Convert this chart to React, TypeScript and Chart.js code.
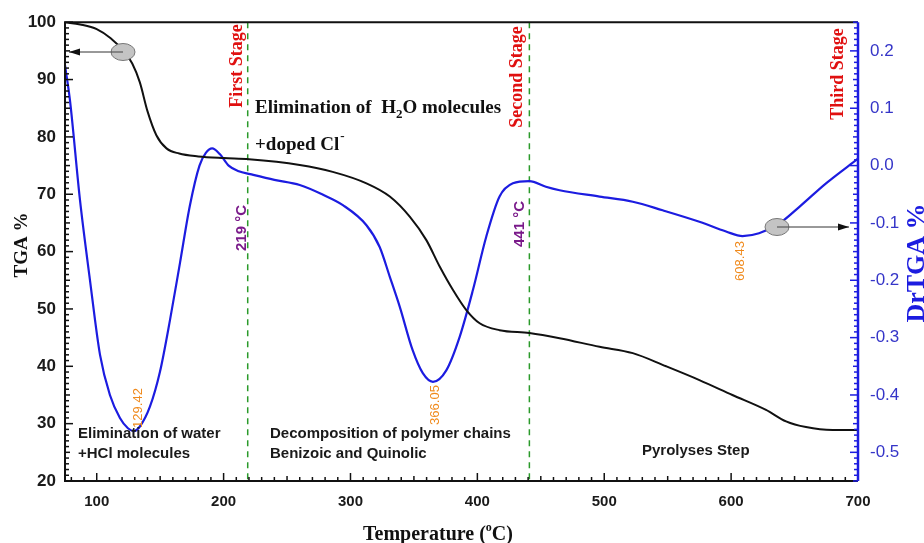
import React, { useEffect, useRef } from "react";
import { Chart, registerables } from "chart.js";

Chart.register(...registerables);

// ---- data ----
const tgaTemp = [75, 87, 100, 111, 121, 128, 134, 140, 147, 155, 165, 180, 200, 220, 260, 286, 312.6, 331, 346.7, 359.8, 370.3, 380.8, 391.3, 401.8, 417.5, 441, 464.8, 496.3, 522.5, 548.8, 575, 601, 627.5, 643.3, 659, 680, 700];
const tgaValues = [100, 99.6, 98.8, 97.2, 95, 92.8, 89.5, 84.5, 80.3, 78, 77.1, 76.6, 76.3, 76.1, 75.1, 73.9, 71.9, 69.6, 66.1, 62, 57.4, 53.3, 49.8, 47.5, 46.3, 45.8, 44.9, 43.4, 42.3, 40, 37.6, 35, 32.4, 30.4, 29.4, 28.9, 28.9];

const dtgTemp = [75, 78.9, 86.8, 94.7, 102.6, 110.4, 118.3, 124.6, 129.4, 134, 142, 149.8, 157.7, 165.6, 173.4, 181, 186, 191, 197, 204, 212, 221, 240, 260, 278.4, 294, 312.6, 323, 331, 338.8, 349, 357, 365, 375.5, 386, 396.5, 407, 417.5, 428, 441, 454, 464.8, 496.3, 522.5, 546, 575, 596, 609, 622, 638, 653.8, 674.8, 700];
const dtgValues = [0.175, 0.114, -0.06, -0.2, -0.33, -0.4, -0.44, -0.458, -0.463, -0.455, -0.42, -0.36, -0.27, -0.17, -0.07, 0.0, 0.022, 0.03, 0.02, 0.0, -0.01, -0.015, -0.025, -0.034, -0.051, -0.069, -0.104, -0.142, -0.194, -0.246, -0.322, -0.362, -0.377, -0.357, -0.299, -0.217, -0.124, -0.054, -0.031, -0.027, -0.037, -0.043, -0.054, -0.063, -0.078, -0.098, -0.115, -0.123, -0.118, -0.101, -0.072, -0.031, 0.012];

const xTicks = [100, 200, 300, 400, 500, 600, 700];
const yTicks = [20, 30, 40, 50, 60, 70, 80, 90, 100];
const y1Ticks = [-0.5, -0.4, -0.3, -0.2, -0.1, 0, 0.1, 0.2];

const stageTemps = [219, 441];
const stageLabels = ["First Stage", "Second Stage", "Third Stage"];
const peakTemps = [129.42, 366.05, 608.43];

const SERIF = "'Liberation Serif', 'Times New Roman', serif";
const SANS = "'Liberation Sans', Arial, sans-serif";

function rotText(ctx: CanvasRenderingContext2D, text: string, x: number, y: number, font: string, color: string) {
  ctx.save();
  ctx.translate(x, y);
  ctx.rotate(-Math.PI / 2);
  ctx.font = font;
  ctx.fillStyle = color;
  ctx.textAlign = "center";
  ctx.textBaseline = "middle";
  ctx.fillText(text, 0, 0);
  ctx.restore();
}

function ellipseArrow(ctx: CanvasRenderingContext2D, cx: number, cy: number, tx: number) {
  ctx.save();
  // arrow line
  ctx.strokeStyle = "#333";
  ctx.lineWidth = 1;
  ctx.beginPath();
  ctx.moveTo(cx, cy);
  ctx.lineTo(tx, cy);
  ctx.stroke();
  const dir = tx < cx ? -1 : 1;
  ctx.fillStyle = "#111";
  ctx.beginPath();
  ctx.moveTo(tx, cy);
  ctx.lineTo(tx - dir * 11, cy - 3.5);
  ctx.lineTo(tx - dir * 11, cy + 3.5);
  ctx.closePath();
  ctx.fill();
  // ellipse
  ctx.fillStyle = "#c4c4c4";
  ctx.strokeStyle = "#777";
  ctx.lineWidth = 1;
  ctx.beginPath();
  ctx.ellipse(cx, cy, 12, 8.5, 0, 0, Math.PI * 2);
  ctx.fill();
  ctx.stroke();
  ctx.strokeStyle = "#444";
  ctx.beginPath();
  ctx.moveTo(cx, cy);
  ctx.lineTo(cx + dir * 12, cy);
  ctx.stroke();
  ctx.restore();
}

const decorPlugin = {
  id: "decor",
  beforeDatasetsDraw(chart: any) {
    const { ctx, chartArea, scales } = chart;
    const x = scales.x;
    ctx.save();
    ctx.strokeStyle = "#2a9a2a";
    ctx.lineWidth = 1.5;
    ctx.setLineDash([6, 5]);
    stageTemps.forEach((t) => {
      const px = x.getPixelForValue(t);
      ctx.beginPath();
      ctx.moveTo(px, chartArea.top);
      ctx.lineTo(px, chartArea.bottom);
      ctx.stroke();
    });
    ctx.restore();
  },
  afterDatasetsDraw(chart: any) {
    const { ctx, chartArea, scales } = chart;
    const { left, right, top, bottom } = chartArea;
    const x = scales.x, y = scales.y, y1 = scales.y1;
    ctx.save();
    // frame
    ctx.strokeStyle = "#111";
    ctx.lineWidth = 2;
    ctx.beginPath();
    ctx.moveTo(right, top);
    ctx.lineTo(left, top);
    ctx.lineTo(left, bottom);
    ctx.lineTo(right, bottom);
    ctx.stroke();
    // left ticks
    ctx.lineWidth = 1.5;
    for (let v = 20; v <= 100; v += 1) {
      const py = y.getPixelForValue(v);
      const len = v % 10 === 0 ? 8 : v % 5 === 0 ? 5 : 4;
      ctx.beginPath();
      ctx.moveTo(left, py);
      ctx.lineTo(left + len, py);
      ctx.stroke();
    }
    // bottom ticks
    for (let v = 80; v <= 700; v += 10) {
      const px = x.getPixelForValue(v);
      const len = v % 100 === 0 ? 8 : v % 50 === 0 ? 5 : 4;
      ctx.beginPath();
      ctx.moveTo(px, bottom);
      ctx.lineTo(px, bottom - len);
      ctx.stroke();
    }
    // right axis (blue)
    ctx.strokeStyle = "#1c1ce0";
    ctx.lineWidth = 2.5;
    ctx.beginPath();
    ctx.moveTo(right, top);
    ctx.lineTo(right, bottom);
    ctx.stroke();
    ctx.lineWidth = 1.5;
    for (let i = -55; i <= 25; i++) {
      const v = i / 100;
      const py = y1.getPixelForValue(v);
      const len = i % 10 === 0 ? 8 : i % 5 === 0 ? 5 : 4;
      ctx.beginPath();
      ctx.moveTo(right, py);
      ctx.lineTo(right - len, py);
      ctx.stroke();
    }
    ctx.restore();

    // stage labels
    const redFont = `bold 18px ${SERIF}`;
    rotText(ctx, stageLabels[0], x.getPixelForValue(219) - 10, 66, redFont, "#e01010");
    rotText(ctx, stageLabels[1], x.getPixelForValue(441) - 12, 77, redFont, "#e01010");
    rotText(ctx, stageLabels[2], 838, 74, redFont, "#e01010");

    // temperature labels
    const purpleFont = `bold 15px ${SANS}`;
    rotText(ctx, "219 °C", x.getPixelForValue(219) - 6, 228, purpleFont, "#7a1a8a");
    rotText(ctx, "441 °C", x.getPixelForValue(441) - 10, 224, purpleFont, "#7a1a8a");

    // peak labels
    const orFont = `13px ${SANS}`;
    rotText(ctx, peakTemps[0].toFixed(2), x.getPixelForValue(peakTemps[0]) + 4, 408, orFont, "#f08a1c");
    rotText(ctx, peakTemps[1].toFixed(2), x.getPixelForValue(peakTemps[1]) + 1, 405, orFont, "#f08a1c");
    rotText(ctx, peakTemps[2].toFixed(2), x.getPixelForValue(peakTemps[2]) - 1, 261, orFont, "#f08a1c");

    // "Elimination of  H2O molecules"
    ctx.save();
    ctx.fillStyle = "#111";
    ctx.textBaseline = "alphabetic";
    ctx.textAlign = "left";
    const bf = `bold 19px ${SERIF}`;
    const sf = `bold 13px ${SERIF}`;
    let cx = 255;
    ctx.font = bf;
    let s = "Elimination of  H";
    ctx.fillText(s, cx, 113);
    cx += ctx.measureText(s).width;
    ctx.font = sf;
    ctx.fillText("2", cx, 118);
    cx += ctx.measureText("2").width;
    ctx.font = bf;
    ctx.fillText("O molecules", cx, 113);
    s = "+doped Cl";
    ctx.fillText(s, 255, 150);
    const w = ctx.measureText(s).width;
    ctx.font = sf;
    ctx.fillText("-", 255 + w + 1, 140);

    // bottom descriptions
    ctx.font = `bold 15px ${SANS}`;
    ctx.fillStyle = "#1a1a1a";
    ctx.fillText("Elimination of water", 78, 438);
    ctx.fillText("+HCl molecules", 78, 458);
    ctx.fillText("Decomposition of polymer chains", 270, 438);
    ctx.fillText("Benizoic and Quinolic", 270, 458);
    ctx.fillText("Pyrolyses Step", 642, 455);
    ctx.restore();

    // ellipses with arrows
    ellipseArrow(ctx, 123, 52, 69);
    ellipseArrow(ctx, 777, 227, 849);

    // axis titles
    ctx.save();
    ctx.fillStyle = "#111";
    ctx.translate(27, 245);
    ctx.rotate(-Math.PI / 2);
    ctx.font = `bold 19px ${SERIF}`;
    ctx.textAlign = "center";
    ctx.textBaseline = "alphabetic";
    ctx.fillText("TGA %", 0, 0);
    ctx.restore();

    ctx.save();
    ctx.fillStyle = "#1c1ce0";
    ctx.translate(924, 263);
    ctx.rotate(-Math.PI / 2);
    ctx.font = `bold 26px ${SERIF}`;
    ctx.textAlign = "center";
    ctx.textBaseline = "alphabetic";
    ctx.fillText("DrTGA %", 0, 0);
    ctx.restore();

    ctx.save();
    ctx.fillStyle = "#111";
    ctx.font = `bold 20px ${SERIF}`;
    ctx.textBaseline = "alphabetic";
    const p1 = "Temperature (";
    const p2 = "C)";
    const sup = "o";
    const w1 = ctx.measureText(p1).width;
    const w3 = ctx.measureText(p2).width;
    ctx.font = `bold 12px ${SERIF}`;
    const w2 = ctx.measureText(sup).width;
    const total = w1 + w2 + w3;
    let tx = 438 - total / 2;
    ctx.font = `bold 20px ${SERIF}`;
    ctx.fillText(p1, tx, 540);
    tx += w1;
    ctx.font = `bold 12px ${SERIF}`;
    ctx.fillText(sup, tx, 531);
    tx += w2;
    ctx.font = `bold 20px ${SERIF}`;
    ctx.fillText(p2, tx, 540);
    ctx.restore();
  },
};

export default function App() {
  const ref = useRef<HTMLCanvasElement | null>(null);
  useEffect(() => {
    if (!ref.current) return;
    const chart = new Chart(ref.current, {
      type: "line",
      data: {
        datasets: [
          {
            label: "TGA",
            data: tgaTemp.map((t, i) => ({ x: t, y: tgaValues[i] })),
            yAxisID: "y",
            borderColor: "#111",
            borderWidth: 2,
            pointRadius: 0,
            cubicInterpolationMode: "monotone",
          },
          {
            label: "DrTGA",
            data: dtgTemp.map((t, i) => ({ x: t, y: dtgValues[i] })),
            yAxisID: "y1",
            borderColor: "#1c1ce0",
            borderWidth: 2.2,
            pointRadius: 0,
            cubicInterpolationMode: "monotone",
          },
        ],
      },
      options: {
        responsive: false,
        animation: false,
        events: [],
        layout: { padding: { top: 22, left: 0, right: 0, bottom: 0 } },
        plugins: { legend: { display: false }, tooltip: { enabled: false } },
        scales: {
          x: {
            type: "linear",
            min: 75,
            max: 700,
            afterBuildTicks: (s: any) => {
              s.ticks = xTicks.map((v) => ({ value: v }));
            },
            afterFit: (s: any) => {
              s.height = 62;
            },
            grid: { display: false, drawTicks: false },
            border: { display: false },
            ticks: {
              font: { family: SANS, size: 15, weight: "bold" },
              color: "#1a1a1a",
              padding: 12,
              maxRotation: 0,
            },
          },
          y: {
            position: "left",
            min: 20,
            max: 100,
            afterBuildTicks: (s: any) => {
              s.ticks = yTicks.map((v) => ({ value: v }));
            },
            afterFit: (s: any) => {
              s.width = 65;
            },
            grid: { display: false, drawTicks: false },
            border: { display: false },
            ticks: {
              font: { family: SANS, size: 17, weight: "bold" },
              color: "#1a1a1a",
              padding: 9,
            },
          },
          y1: {
            position: "right",
            min: -0.55,
            max: 0.25,
            afterBuildTicks: (s: any) => {
              s.ticks = y1Ticks.map((v) => ({ value: v }));
            },
            afterFit: (s: any) => {
              s.width = 66;
            },
            grid: { display: false, drawTicks: false },
            border: { display: false },
            ticks: {
              font: { family: SANS, size: 17 },
              color: "#3535c8",
              padding: 12,
              callback: (v: any) => Number(v).toFixed(1),
            },
          },
        },
      },
      plugins: [decorPlugin],
    } as any);
    return () => chart.destroy();
  }, []);
  return (
    <div style={{ position: "fixed", left: 0, top: 0, width: 924, height: 543, background: "#fff" }}>
      <canvas ref={ref} width={924} height={543} style={{ width: 924, height: 543 }} />
    </div>
  );
}
